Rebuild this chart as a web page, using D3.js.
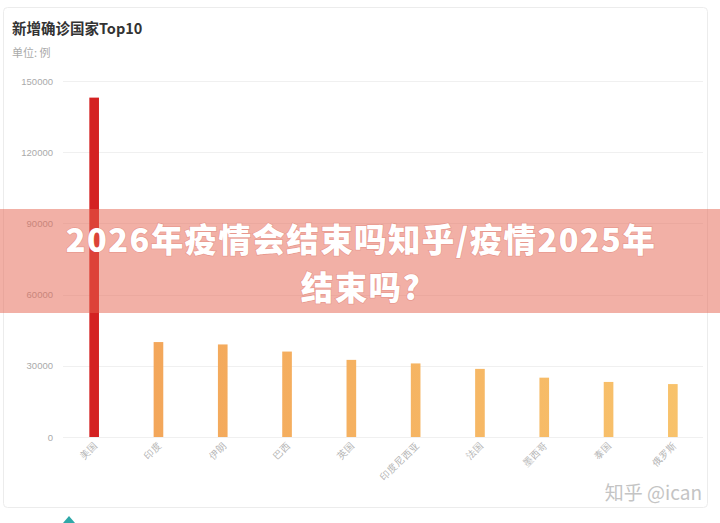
<!DOCTYPE html>
<html><head><meta charset="utf-8">
<script src="https://cdn.jsdelivr.net/npm/d3@7/dist/d3.min.js"></script>
<style>
body{margin:0;background:#fff;}
svg{display:block;font-family:"Noto Sans CJK SC","Noto Sans",sans-serif;}
</style></head>
<body>
<svg id="chart" width="720" height="523"></svg>
<script>
const categories = ["美国","印度","伊朗","巴西","英国","印度尼西亚","法国","墨西哥","泰国","俄罗斯"];
const values = [143000, 40000, 39000, 36000, 32500, 31000, 28700, 25000, 23200, 22300];
const yTicks = [0, 30000, 60000, 90000, 120000, 150000];
const title = "新增确诊国家Top10";
const unit = "单位: 例";
const overlayLines = ["2026年疫情会结束吗知乎/疫情2025年", "结束吗?"];
const watermark = "知乎 @ican";

const svg = d3.select("#chart");
const W = 720, H = 523;
const m = {left: 62, right: 15, top: 81, bottom: 86};

// card
svg.append("rect").attr("x", 3.5).attr("y", 7.5).attr("width", 704).attr("height", 500)
  .attr("rx", 4).attr("fill", "#fff").attr("stroke", "#ececec");

const defs = svg.append("defs");
const grad = defs.append("linearGradient").attr("id", "og")
  .attr("gradientUnits", "userSpaceOnUse").attr("x1", 140).attr("x2", 690).attr("y1", 0).attr("y2", 0);
grad.append("stop").attr("offset", "0%").attr("stop-color", "#f3a65a");
grad.append("stop").attr("offset", "100%").attr("stop-color", "#f8c36c");

const x = d3.scaleBand().domain(categories).range([m.left, W - m.right]).paddingInner(0.85).paddingOuter(0.425);
const y = d3.scaleLinear().domain([0, 150000]).range([H - m.bottom, m.top]);

// gridlines
svg.append("g").selectAll("line").data(yTicks).join("line")
  .attr("x1", m.left + 1).attr("x2", W - m.right - 2)
  .attr("y1", d => Math.round(y(d)) + 0.5).attr("y2", d => Math.round(y(d)) + 0.5)
  .attr("stroke", "#f0f0f0");

// y axis
const yAxis = svg.append("g").attr("transform", `translate(${m.left - 6},0)`)
  .call(d3.axisLeft(y).tickValues(yTicks).tickSize(0).tickFormat(d3.format("d")));
yAxis.select(".domain").remove();
yAxis.selectAll("text").attr("fill", "#aaa").attr("font-size", 9.5).attr("font-family", "Arial, 'Liberation Sans', sans-serif");

// bars
svg.append("g").selectAll("rect").data(values).join("rect")
  .attr("x", (d, i) => x(categories[i]))
  .attr("width", x.bandwidth())
  .attr("y", d => y(d))
  .attr("height", d => y(0) - y(d))
  .attr("fill", (d, i) => i === 0 ? "#d42222" : "url(#og)");

// x axis labels
const xAxis = svg.append("g").attr("transform", `translate(0,${H - m.bottom})`)
  .call(d3.axisBottom(x).tickSize(0).tickPadding(0));
xAxis.select(".domain").remove();
xAxis.selectAll("text")
  .attr("fill", "#b0b0b0").attr("font-size", 9.5)
  .attr("text-anchor", "end")
  .attr("dy", 0)
  .attr("transform", "translate(4,9) rotate(-45)");

// title
svg.append("text").attr("x", 12).attr("y", 34).text(title)
  .attr("font-size", 14.5).attr("font-weight", "bold").attr("fill", "#333");
svg.append("text").attr("x", 12).attr("y", 57).text(unit)
  .attr("font-size", 11).attr("fill", "#aaa");

// watermark
svg.append("text").attr("x", 702).attr("y", 500).attr("text-anchor", "end").text(watermark)
  .attr("font-size", 19).attr("fill", "#c4c4c4");

// teal icon remnant
svg.append("path").attr("d", "M63,523 L69,516 L75,523 Z").attr("fill", "#2fa8a8");

// overlay band
svg.append("rect").attr("x", 0).attr("y", 209).attr("width", W).attr("height", 104)
  .attr("fill", "rgba(229,98,78,0.5)");
svg.append("g").selectAll("text").data(overlayLines).join("text")
  .attr("x", 361).attr("y", (d, i) => 252 + i * 47.5)
  .attr("text-anchor", "middle")
  .attr("font-size", 32.5).attr("font-weight", 900).attr("fill", "#fff")
  .attr("letter-spacing", 1.4)
  .style("paint-order", "stroke").attr("stroke", "rgba(200,80,70,0.25)").attr("stroke-width", 1.5)
  .text(d => d);
</script>
</body></html>
